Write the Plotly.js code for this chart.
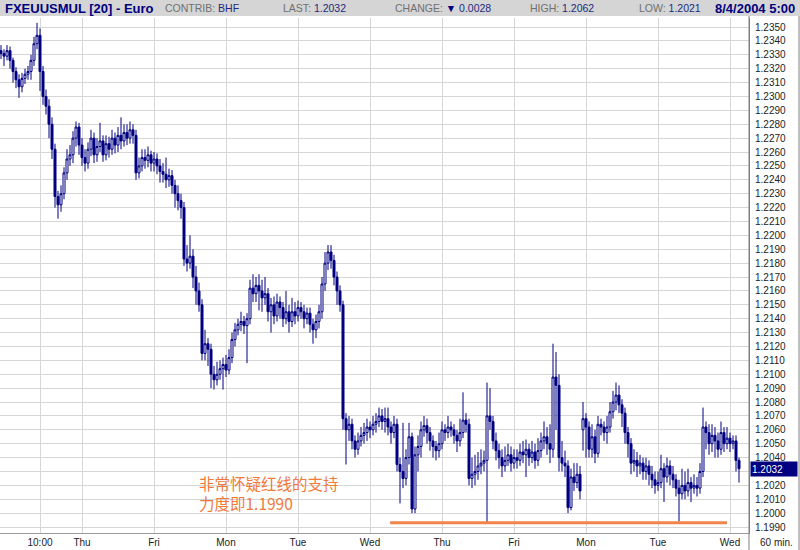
<!DOCTYPE html>
<html><head><meta charset="utf-8">
<script src="https://cdn.plot.ly/plotly-3.0.1.min.js"></script>
<style>body{margin:0;background:#fff}#chart{width:800px;height:550px}</style>
</head><body><div id="chart"></div>
<script>
// Hourly EUR/USD bars, Tue 21 Jul 2004 ~21:00 to Wed 4 Aug 2004 05:00 (weekend removed)
const openP = [
1.2333,1.2331,1.2329,1.2333,1.2326,1.2318,1.2312,1.2307,1.2313,1.2316,
1.2318,1.2326,1.2338,1.2344,1.2318,1.2300,1.2293,1.2280,1.2262,1.2228,
1.2222,1.2230,1.2245,1.2255,1.2258,1.2270,1.2278,1.2265,1.2256,1.2252,
1.2262,1.2270,1.2258,1.2264,1.2268,1.2258,1.2266,1.2262,1.2270,1.2265,
1.2272,1.2268,1.2274,1.2270,1.2276,1.2272,1.2245,1.2250,1.2256,1.2254,
1.2258,1.2252,1.2255,1.2250,1.2246,1.2244,1.2240,1.2243,1.2236,1.2230,
1.2225,1.2220,1.2183,1.2180,1.2185,1.2170,1.2160,1.2150,1.2115,1.2122,
1.2118,1.2100,1.2096,1.2100,1.2104,1.2107,1.2103,1.2112,1.2125,1.2132,
1.2136,1.2138,1.2135,1.2140,1.2162,1.2158,1.2164,1.2160,1.2155,1.2158,
1.2145,1.2150,1.2142,1.2152,1.2148,1.2140,1.2145,1.2138,1.2145,1.2142,
1.2148,1.2145,1.2140,1.2144,1.2136,1.2132,1.2138,1.2145,1.2165,1.2180,
1.2188,1.2182,1.2170,1.2160,1.2150,1.2068,1.2060,1.2064,1.2052,1.2046,
1.2052,1.2056,1.2058,1.2062,1.2060,1.2064,1.2066,1.2070,1.2066,1.2068,
1.2062,1.2058,1.2064,1.2035,1.2030,1.2025,1.2040,1.2055,1.2003,1.2042,
1.2048,1.2060,1.2063,1.2058,1.2052,1.2048,1.2045,1.2050,1.2060,1.2058,
1.2062,1.2060,1.2056,1.2052,1.2058,1.2067,1.2064,1.2025,1.2028,1.2030,
1.2034,1.2036,1.2038,1.2070,1.2066,1.2052,1.2045,1.2040,1.2034,1.2038,
1.2042,1.2036,1.2040,1.2038,1.2044,1.2042,1.2046,1.2040,1.2044,1.2038,
1.2045,1.2052,1.2055,1.2050,1.2046,1.2098,1.2092,1.2040,1.2036,1.2034,
1.2004,1.2026,1.2022,1.2028,1.2060,1.2068,1.2062,1.2046,1.2055,1.2043,
1.2064,1.2062,1.2058,1.2062,1.2073,1.2080,1.2085,1.2078,1.2072,1.2058,
1.2050,1.2036,1.2038,1.2034,1.2036,1.2030,1.2034,1.2028,1.2024,1.2020,
1.2022,1.2032,1.2026,1.2034,1.2028,1.2024,1.2018,1.2014,1.2020,1.2016,
1.2022,1.2018,1.2020,1.2018,1.2030,1.2062,1.2058,1.2050,1.2056,1.2052,
1.2046,1.2058,1.2050,1.2054,1.2050,1.2052,1.2038
];
const highP = [
1.2337,1.2334,1.2337,1.2336,1.2328,1.2321,1.2316,1.2317,1.2320,1.2322,
1.2330,1.2343,1.2353,1.2349,1.2322,1.2305,1.2298,1.2285,1.2266,1.2232,
1.2236,1.2249,1.2262,1.2265,1.2275,1.2282,1.2281,1.2270,1.2262,1.2267,
1.2276,1.2274,1.2270,1.2281,1.2272,1.2272,1.2271,1.2276,1.2274,1.2278,
1.2285,1.2280,1.2280,1.2282,1.2280,1.2276,1.2256,1.2262,1.2262,1.2264,
1.2261,1.2260,1.2259,1.2255,1.2252,1.2256,1.2248,1.2247,1.2240,1.2236,
1.2230,1.2224,1.2193,1.2200,1.2190,1.2178,1.2166,1.2154,1.2132,1.2126,
1.2122,1.2106,1.2109,1.2110,1.2112,1.2114,1.2118,1.2130,1.2137,1.2140,
1.2145,1.2142,1.2144,1.2168,1.2172,1.2170,1.2172,1.2168,1.2170,1.2162,
1.2155,1.2156,1.2158,1.2156,1.2152,1.2160,1.2150,1.2155,1.2152,1.2153,
1.2152,1.2150,1.2148,1.2148,1.2140,1.2143,1.2150,1.2170,1.2188,1.2193,
1.2193,1.2186,1.2174,1.2164,1.2153,1.2072,1.2070,1.2068,1.2056,1.2058,
1.2062,1.2065,1.2068,1.2066,1.2070,1.2072,1.2076,1.2075,1.2076,1.2076,
1.2066,1.2070,1.2068,1.2040,1.2065,1.2046,1.2065,1.2058,1.2048,1.2056,
1.2066,1.2070,1.2068,1.2062,1.2056,1.2052,1.2058,1.2066,1.2064,1.2070,
1.2066,1.2064,1.2060,1.2068,1.2087,1.2072,1.2068,1.2040,1.2042,1.2044,
1.2046,1.2045,1.2094,1.2090,1.2070,1.2058,1.2050,1.2046,1.2048,1.2050,
1.2048,1.2046,1.2046,1.2050,1.2052,1.2053,1.2050,1.2052,1.2050,1.2054,
1.2058,1.2066,1.2062,1.2064,1.2122,1.2116,1.2100,1.2052,1.2045,1.2038,
1.2032,1.2036,1.2036,1.2034,1.2080,1.2072,1.2066,1.2064,1.2060,1.2070,
1.2068,1.2066,1.2070,1.2080,1.2088,1.2094,1.2092,1.2082,1.2076,1.2062,
1.2054,1.2046,1.2044,1.2042,1.2040,1.2040,1.2038,1.2034,1.2030,1.2030,
1.2042,1.2036,1.2040,1.2038,1.2034,1.2028,1.2024,1.2032,1.2030,1.2032,
1.2026,1.2028,1.2026,1.2036,1.2076,1.2066,1.2064,1.2064,1.2062,1.2058,
1.2066,1.2062,1.2062,1.2058,1.2056,1.2056,1.2040
];
const lowP = [
1.2327,1.2322,1.2326,1.2320,1.2310,1.2306,1.2299,1.2303,1.2309,1.2312,
1.2312,1.2322,1.2334,1.2304,1.2294,1.2287,1.2270,1.2255,1.2220,1.2212,
1.2217,1.2226,1.2240,1.2250,1.2252,1.2264,1.2258,1.2250,1.2246,1.2248,
1.2257,1.2252,1.2253,1.2260,1.2253,1.2254,1.2256,1.2258,1.2259,1.2260,
1.2262,1.2264,1.2265,1.2266,1.2266,1.2240,1.2241,1.2246,1.2248,1.2249,
1.2246,1.2246,1.2244,1.2238,1.2238,1.2234,1.2235,1.2230,1.2220,1.2218,
1.2212,1.2178,1.2174,1.2176,1.2162,1.2150,1.2145,1.2110,1.2110,1.2106,
1.2090,1.2089,1.2092,1.2096,1.2089,1.2098,1.2100,1.2108,1.2120,1.2128,
1.2131,1.2129,1.2108,1.2136,1.2152,1.2152,1.2146,1.2145,1.2150,1.2138,
1.2130,1.2136,1.2138,1.2140,1.2134,1.2136,1.2130,1.2134,1.2136,1.2138,
1.2140,1.2133,1.2136,1.2130,1.2122,1.2126,1.2133,1.2140,1.2160,1.2175,
1.2176,1.2164,1.2150,1.2145,1.2060,1.2035,1.2052,1.2046,1.2040,1.2042,
1.2048,1.2050,1.2052,1.2054,1.2056,1.2058,1.2062,1.2060,1.2058,1.2056,
1.2050,1.2054,1.2030,1.2007,1.2018,1.2020,1.2035,1.2000,1.2000,1.2030,
1.2040,1.2055,1.2050,1.2045,1.2040,1.2038,1.2040,1.2046,1.2052,1.2054,
1.2055,1.2050,1.2044,1.2048,1.2054,1.2058,1.2020,1.2018,1.2020,1.2024,
1.2028,1.2030,1.1993,1.2060,1.2046,1.2038,1.2032,1.2026,1.2030,1.2034,
1.2030,1.2032,1.2032,1.2034,1.2036,1.2026,1.2034,1.2036,1.2032,1.2034,
1.2040,1.2046,1.2042,1.2036,1.2040,1.2060,1.2030,1.2030,1.2026,1.2000,
1.2002,1.2016,1.2018,1.2010,1.2045,1.2040,1.2040,1.2040,1.2036,1.2040,
1.2056,1.2052,1.2050,1.2058,1.2068,1.2074,1.2072,1.2062,1.2050,1.2040,
1.2028,1.2030,1.2026,1.2028,1.2024,1.2024,1.2020,1.2018,1.2014,1.2016,
1.2018,1.2008,1.2022,1.2020,1.2018,1.2012,1.1994,1.2010,1.2010,1.2012,
1.2008,1.2014,1.2012,1.2014,1.2026,1.2046,1.2042,1.2044,1.2040,1.2040,
1.2042,1.2044,1.2046,1.2044,1.2046,1.2030,1.2022
];
const closeP = [
1.2331,1.2329,1.2333,1.2326,1.2318,1.2312,1.2307,1.2313,1.2316,1.2318,
1.2326,1.2338,1.2344,1.2318,1.2300,1.2293,1.2280,1.2262,1.2228,1.2222,
1.2230,1.2245,1.2255,1.2258,1.2270,1.2278,1.2265,1.2256,1.2252,1.2262,
1.2270,1.2258,1.2264,1.2268,1.2258,1.2266,1.2262,1.2270,1.2265,1.2272,
1.2268,1.2274,1.2270,1.2276,1.2272,1.2245,1.2250,1.2256,1.2254,1.2258,
1.2252,1.2255,1.2250,1.2246,1.2244,1.2240,1.2243,1.2236,1.2230,1.2225,
1.2220,1.2183,1.2180,1.2185,1.2170,1.2160,1.2150,1.2115,1.2122,1.2118,
1.2100,1.2096,1.2100,1.2104,1.2107,1.2103,1.2112,1.2125,1.2132,1.2136,
1.2138,1.2135,1.2140,1.2162,1.2158,1.2164,1.2160,1.2155,1.2158,1.2145,
1.2150,1.2142,1.2152,1.2148,1.2140,1.2145,1.2138,1.2145,1.2142,1.2148,
1.2145,1.2140,1.2144,1.2136,1.2132,1.2138,1.2145,1.2165,1.2180,1.2188,
1.2182,1.2170,1.2160,1.2150,1.2068,1.2060,1.2064,1.2052,1.2046,1.2052,
1.2056,1.2058,1.2062,1.2060,1.2064,1.2066,1.2070,1.2066,1.2068,1.2062,
1.2058,1.2064,1.2035,1.2030,1.2025,1.2040,1.2055,1.2003,1.2042,1.2048,
1.2060,1.2063,1.2058,1.2052,1.2048,1.2045,1.2050,1.2060,1.2058,1.2062,
1.2060,1.2056,1.2052,1.2058,1.2067,1.2064,1.2025,1.2028,1.2030,1.2034,
1.2036,1.2038,1.2070,1.2066,1.2052,1.2045,1.2040,1.2034,1.2038,1.2042,
1.2036,1.2040,1.2038,1.2044,1.2042,1.2046,1.2040,1.2044,1.2038,1.2045,
1.2052,1.2055,1.2050,1.2046,1.2098,1.2092,1.2040,1.2036,1.2034,1.2004,
1.2026,1.2022,1.2028,1.2016,1.2068,1.2062,1.2046,1.2055,1.2043,1.2064,
1.2062,1.2058,1.2062,1.2073,1.2080,1.2085,1.2078,1.2072,1.2058,1.2050,
1.2036,1.2038,1.2034,1.2036,1.2030,1.2034,1.2028,1.2024,1.2020,1.2022,
1.2032,1.2026,1.2034,1.2028,1.2024,1.2018,1.2014,1.2020,1.2016,1.2022,
1.2018,1.2020,1.2018,1.2030,1.2062,1.2058,1.2050,1.2056,1.2052,1.2046,
1.2058,1.2050,1.2054,1.2050,1.2052,1.2038,1.2032
];
const dayTickBars = [13,27,51,75,99,123,147,171,195,219,243];
const dayTickLabels = ['10:00','Thu','Fri','Mon','Tue','Wed','Thu','Fri','Mon','Tue','Wed'];
const priceTicks = [1.199,1.200,1.201,1.202,1.203,1.204,1.205,1.206,1.207,1.208,1.209,1.210,
  1.211,1.212,1.213,1.214,1.215,1.216,1.217,1.218,1.219,1.220,1.221,1.222,1.223,1.224,1.225,
  1.226,1.227,1.228,1.229,1.230,1.231,1.232,1.233,1.234,1.235];
const lastPrice = 1.2032;
const supportLevel = 1.1993;
const supportStartBar = 129.7, supportEndBar = 242;
const headerTitle = 'FXEUUSMUL [20] - Euro';
const headerContrib = 'BHF', headerLast = '1.2032', headerChange = '0.0028';
const headerHigh = '1.2062', headerLow = '1.2021', headerDate = '8/4/2004 5:00';
const noteLines = ['非常怀疑红线的支持', '力度即1.1990'];

const barIndex = closeP.map((_, i) => i);
// hide the tick label that the last-price box covers
const priceTickText = priceTicks.map(v => Math.abs(v - lastPrice) < 0.0005 ? '' : v.toFixed(4));
const NAVY = '#000080';
const W = 749, H = 515, T = 18;
const px = x => x / W;
const py = y => (T + H - y) / H;

const trace = {
  type: 'candlestick', x: barIndex, open: openP, high: highP, low: lowP, close: closeP,
  increasing: {line: {color: NAVY, width: 1}, fillcolor: '#ffffff'},
  decreasing: {line: {color: NAVY, width: 1}, fillcolor: NAVY},
  whiskerwidth: 0, hoverinfo: 'skip', showlegend: false
};

const gray = '#808080';
const FONT = 'Liberation Sans, Arial, sans-serif';
const hdrFont = {family: FONT, size: 10.5, color: '#707070'};
function hdr(text, x, anchor, font) {
  return {xref: 'paper', yref: 'paper', x: px(x), y: py(8), xanchor: anchor, yanchor: 'middle',
          text: text, showarrow: false, font: font || hdrFont};
}
const val = s => `<span style="color:#1c2a80">${s}</span>`;

const layout = {
  width: 800, height: 550,
  margin: {l: 0, r: 51, t: T, b: 17, pad: 0},
  paper_bgcolor: '#ffffff', plot_bgcolor: '#ffffff',
  showlegend: false,
  boxgap: 0.05,
  xaxis: {
    range: [-1/3, 249 + 1/3], tickmode: 'array', tickvals: dayTickBars, ticktext: dayTickLabels,
    showgrid: true, gridcolor: '#d6d6d6', gridwidth: 1, zeroline: false,
    showline: true, linecolor: '#9a9a9a', ticks: '',
    tickfont: {family: FONT, size: 10, color: '#222'},
    rangeslider: {visible: false}, fixedrange: true
  },
  yaxis: {
    side: 'right', range: [1.19857, 1.23565], tickmode: 'array', tickvals: priceTicks, ticktext: priceTickText,
    showgrid: true, gridcolor: '#d6d6d6', gridwidth: 1, zeroline: false,
    showline: true, linecolor: gray, ticks: '', ticklabelstandoff: 3,
    tickfont: {family: FONT, size: 10, color: '#222'},
    fixedrange: true
  },
  shapes: [
    {type: 'rect', xref: 'paper', yref: 'paper', x0: px(-2), x1: px(802), y0: py(16), y1: py(-2),
     fillcolor: '#d5d5d5', line: {width: 0}, layer: 'above'},
    {type: 'line', xref: 'paper', yref: 'paper', x0: 1, x1: 1, y0: py(550), y1: py(16),
     line: {color: gray, width: 1}},
    {type: 'line', xref: 'paper', yref: 'paper', x0: px(799), x1: px(799), y0: py(550), y1: py(16),
     line: {color: gray, width: 1}},
    {type: 'line', xref: 'x', yref: 'y', x0: supportStartBar, x1: supportEndBar, y0: supportLevel, y1: supportLevel,
     line: {color: '#f0844a', width: 3}}
  ],
  annotations: [
    hdr(headerTitle, 3, 'left', {family: FONT, size: 13, color: NAVY, weight: 'bold'}),
    hdr('CONTRIB: ' + val(headerContrib), 163, 'left'),
    hdr('LAST: ' + val(headerLast), 281, 'left'),
    hdr('CHANGE: ' + `<span style="color:${NAVY}">▼</span> ` + val(headerChange), 393, 'left'),
    hdr('HIGH: ' + val(headerHigh), 528, 'left'),
    hdr('LOW: ' + val(headerLow), 637, 'left'),
    hdr(headerDate, 797, 'right', {family: FONT, size: 13, color: NAVY, weight: 'bold'}),
    {xref: 'paper', yref: 'y', x: 1, xshift: 1, y: lastPrice, xanchor: 'left', yanchor: 'middle',
     text: lastPrice.toFixed(4), showarrow: false, bgcolor: NAVY, width: 44, height: 12, align: 'left',
     font: {family: FONT, size: 10, color: '#ffffff'}},
    {xref: 'paper', yref: 'paper', x: px(776), y: py(542), xanchor: 'center', yanchor: 'middle',
     text: '60 min.', showarrow: false,
     font: {family: FONT, size: 10, color: '#222'}},
    {xref: 'paper', yref: 'paper', x: px(197), y: py(493), xanchor: 'left', yanchor: 'middle',
     text: noteLines.join('<br>'), showarrow: false, align: 'left',
     font: {family: 'Noto Sans CJK SC, sans-serif', size: 15.5, color: '#f07a3c'}}
  ]
};

Plotly.newPlot('chart', [trace], layout, {staticPlot: true, displayModeBar: false});
</script>
</body></html>
